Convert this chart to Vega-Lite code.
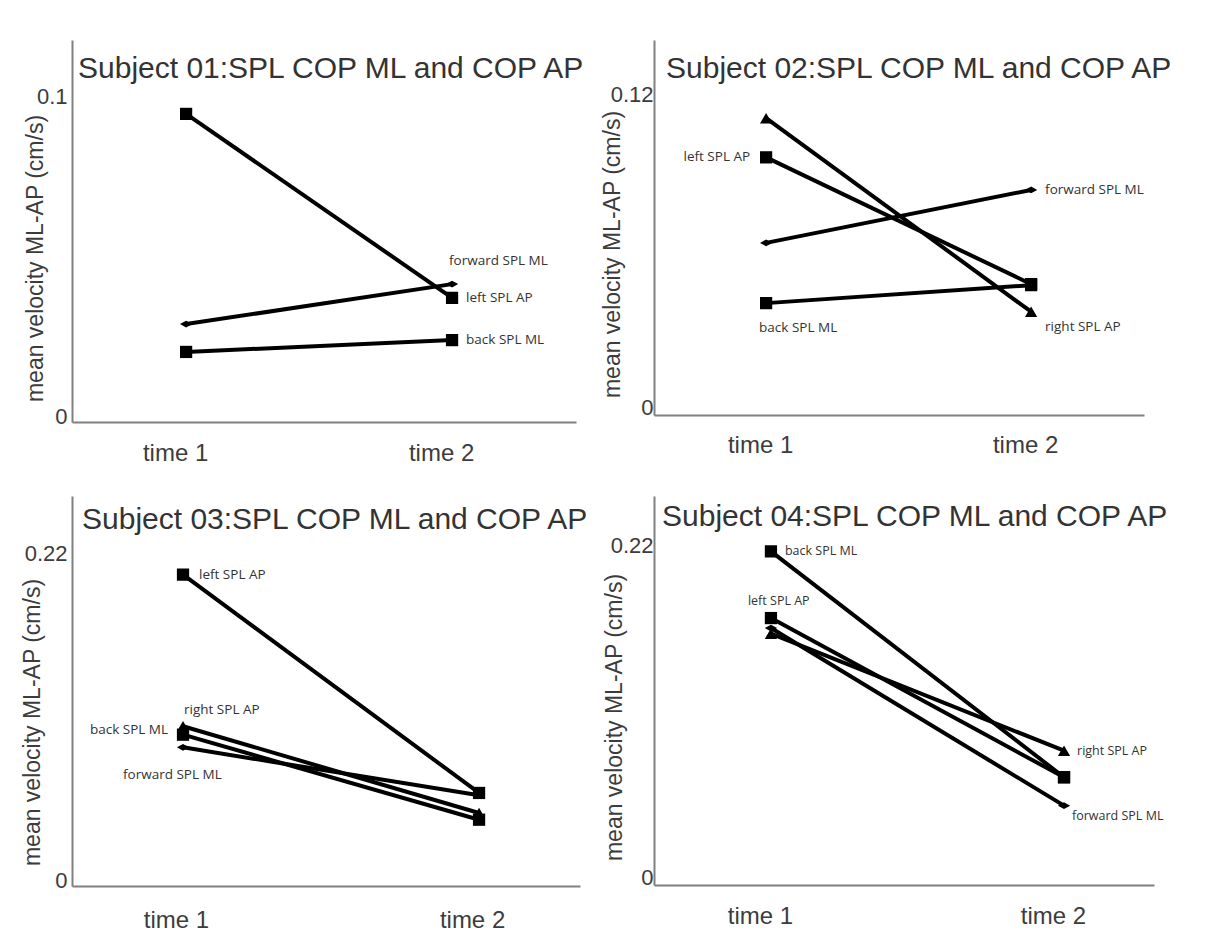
{
  "$schema": "https://vega.github.io/schema/vega-lite/v6.json",
  "padding": {"left": 21, "top": 40, "right": 5, "bottom": 5},
  "background": "white",
  "datasets": {
    "vel": [
      {"subject": "01", "series": "left SPL AP", "time": 1, "velocity": 0.0963},
      {"subject": "01", "series": "left SPL AP", "time": 2, "velocity": 0.0388},
      {"subject": "01", "series": "forward SPL ML", "time": 1, "velocity": 0.0306},
      {"subject": "01", "series": "forward SPL ML", "time": 2, "velocity": 0.0431},
      {"subject": "01", "series": "back SPL ML", "time": 1, "velocity": 0.0219},
      {"subject": "01", "series": "back SPL ML", "time": 2, "velocity": 0.0256},
      {"subject": "02", "series": "right SPL AP", "time": 1, "velocity": 0.1138},
      {"subject": "02", "series": "right SPL AP", "time": 2, "velocity": 0.0396},
      {"subject": "02", "series": "left SPL AP", "time": 1, "velocity": 0.0988},
      {"subject": "02", "series": "left SPL AP", "time": 2, "velocity": 0.0502},
      {"subject": "02", "series": "forward SPL ML", "time": 1, "velocity": 0.0660},
      {"subject": "02", "series": "forward SPL ML", "time": 2, "velocity": 0.0863},
      {"subject": "02", "series": "back SPL ML", "time": 1, "velocity": 0.0429},
      {"subject": "02", "series": "back SPL ML", "time": 2, "velocity": 0.0498},
      {"subject": "03", "series": "left SPL AP", "time": 1, "velocity": 0.2095},
      {"subject": "03", "series": "left SPL AP", "time": 2, "velocity": 0.0626},
      {"subject": "03", "series": "right SPL AP", "time": 1, "velocity": 0.1075},
      {"subject": "03", "series": "right SPL AP", "time": 2, "velocity": 0.0491},
      {"subject": "03", "series": "back SPL ML", "time": 1, "velocity": 0.1018},
      {"subject": "03", "series": "back SPL ML", "time": 2, "velocity": 0.0446},
      {"subject": "03", "series": "forward SPL ML", "time": 1, "velocity": 0.0933},
      {"subject": "03", "series": "forward SPL ML", "time": 2, "velocity": 0.0610},
      {"subject": "04", "series": "back SPL ML", "time": 1, "velocity": 0.2211},
      {"subject": "04", "series": "back SPL ML", "time": 2, "velocity": 0.0714},
      {"subject": "04", "series": "left SPL AP", "time": 1, "velocity": 0.1769},
      {"subject": "04", "series": "left SPL AP", "time": 2, "velocity": 0.0714},
      {"subject": "04", "series": "right SPL AP", "time": 1, "velocity": 0.1666},
      {"subject": "04", "series": "right SPL AP", "time": 2, "velocity": 0.0890},
      {"subject": "04", "series": "forward SPL ML", "time": 1, "velocity": 0.1703},
      {"subject": "04", "series": "forward SPL ML", "time": 2, "velocity": 0.0526}
    ]
  },
  "data": {"name": "vel"},
  "columns": 2,
  "spacing": {"row": 31, "column": 8},
  "concat": [
    {
      "width": 504, "height": 382,
      "title": {"text": "Subject 01:SPL COP ML and COP AP", "dx": 6, "offset": -44},
      "encoding": {
        "x": {"field": "time", "type": "quantitative", "scale": {"domain": [0.571, 2.466], "nice": false, "zero": false},
              "axis": {"title": null, "values": [1, 2], "labelExpr": "'time ' + datum.value", "labelFontSize": 24, "labelPadding": 19, "labelOffset": -11, "labelFlush": false}},
        "y": {"field": "velocity", "type": "quantitative", "scale": {"domain": [0, 0.1194], "nice": false},
              "axis": {"title": "mean velocity ML-AP (cm/s)", "values": [0, 0.1], "labelExpr": "'' + datum.value", "labelOffset": -6, "titleX": -25, "titleY": 218}}
      },
      "layer": [
        {"transform": [{"filter": "datum.subject == '01'"}], "mark": {"type": "line", "color": "black", "strokeWidth": 4}, "encoding": {"detail": {"field": "series"}}},
        {"transform": [{"filter": "datum.subject == '01'"}], "mark": {"type": "point", "filled": true, "color": "black", "opacity": 1},
         "encoding": {
           "shape": {"field": "series", "type": "nominal", "scale": {"domain": ["left SPL AP", "back SPL ML", "forward SPL ML", "right SPL AP"], "range": ["square", "square", "M-1,0L0,-0.55L1,0L0,0.55Z", "triangle-up"]}, "legend": null},
           "size": {"field": "series", "type": "nominal", "scale": {"domain": ["left SPL AP", "back SPL ML", "forward SPL ML", "right SPL AP"], "range": [150, 150, 110, 150]}, "legend": null}}},
        {"data": {"values": [{"end": "y"}]}, "mark": {"type": "point", "shape": "triangle-up", "filled": true, "color": "#7a7a7a", "size": 30, "opacity": 1}, "encoding": {"x": {"datum": 0.571}, "y": {"datum": 0.1194}}},
        {"data": {"values": [{"end": "x"}]}, "mark": {"type": "point", "shape": "triangle-right", "filled": true, "color": "#7a7a7a", "size": 30, "opacity": 1}, "encoding": {"x": {"datum": 2.466}, "y": {"datum": 0}}},
        {"transform": [{"filter": "datum.subject == '01' && datum.series == 'forward SPL ML' && datum.time == 2"}], "mark": {"type": "text", "align": "left", "dx": -3, "dy": -23}, "encoding": {"text": {"field": "series"}}},
        {"transform": [{"filter": "datum.subject == '01' && datum.series == 'left SPL AP' && datum.time == 2"}], "mark": {"type": "text", "align": "left", "dx": 14, "dy": 0}, "encoding": {"text": {"field": "series"}}},
        {"transform": [{"filter": "datum.subject == '01' && datum.series == 'back SPL ML' && datum.time == 2"}], "mark": {"type": "text", "align": "left", "dx": 14, "dy": 0}, "encoding": {"text": {"field": "series"}}}
      ]
    },
    {
      "width": 490, "height": 375,
      "title": {"text": "Subject 02:SPL COP ML and COP AP", "dx": 12, "offset": -44},
      "encoding": {
        "x": {"field": "time", "type": "quantitative", "scale": {"domain": [0.577, 2.426], "nice": false, "zero": false},
              "axis": {"title": null, "values": [1, 2], "labelExpr": "'time ' + datum.value", "labelFontSize": 24, "labelPadding": 18, "labelOffset": -6, "labelFlush": false}},
        "y": {"field": "velocity", "type": "quantitative", "scale": {"domain": [0, 0.1438], "nice": false},
              "axis": {"title": "mean velocity ML-AP (cm/s)", "values": [0, 0.12], "labelExpr": "'' + datum.value", "labelOffset": -8, "labelPadding": 1, "titleX": -30, "titleY": 214}}
      },
      "layer": [
        {"transform": [{"filter": "datum.subject == '02'"}], "mark": {"type": "line", "color": "black", "strokeWidth": 4}, "encoding": {"detail": {"field": "series"}}},
        {"transform": [{"filter": "datum.subject == '02'"}], "mark": {"type": "point", "filled": true, "color": "black", "opacity": 1},
         "encoding": {
           "shape": {"field": "series", "type": "nominal", "scale": {"domain": ["left SPL AP", "back SPL ML", "forward SPL ML", "right SPL AP"], "range": ["square", "square", "M-1,0L0,-0.55L1,0L0,0.55Z", "triangle-up"]}, "legend": null},
           "size": {"field": "series", "type": "nominal", "scale": {"domain": ["left SPL AP", "back SPL ML", "forward SPL ML", "right SPL AP"], "range": [150, 150, 110, 150]}, "legend": null}}},
        {"data": {"values": [{"end": "y"}]}, "mark": {"type": "point", "shape": "triangle-up", "filled": true, "color": "#7a7a7a", "size": 30, "opacity": 1}, "encoding": {"x": {"datum": 0.577}, "y": {"datum": 0.1438}}},
        {"data": {"values": [{"end": "x"}]}, "mark": {"type": "point", "shape": "triangle-right", "filled": true, "color": "#7a7a7a", "size": 30, "opacity": 1}, "encoding": {"x": {"datum": 2.426}, "y": {"datum": 0}}},
        {"transform": [{"filter": "datum.subject == '02' && datum.series == 'left SPL AP' && datum.time == 1"}], "mark": {"type": "text", "align": "right", "dx": -16, "dy": 0}, "encoding": {"text": {"field": "series"}}},
        {"transform": [{"filter": "datum.subject == '02' && datum.series == 'forward SPL ML' && datum.time == 2"}], "mark": {"type": "text", "align": "left", "dx": 14, "dy": 0}, "encoding": {"text": {"field": "series"}}},
        {"transform": [{"filter": "datum.subject == '02' && datum.series == 'back SPL ML' && datum.time == 1"}], "mark": {"type": "text", "align": "left", "dx": -7, "dy": 25}, "encoding": {"text": {"field": "series"}}},
        {"transform": [{"filter": "datum.subject == '02' && datum.series == 'right SPL AP' && datum.time == 2"}], "mark": {"type": "text", "align": "left", "dx": 14, "dy": 15}, "encoding": {"text": {"field": "series"}}}
      ]
    },
    {
      "width": 508, "height": 390,
      "title": {"text": "Subject 03:SPL COP ML and COP AP", "dx": 10, "offset": -39},
      "encoding": {
        "x": {"field": "time", "type": "quantitative", "scale": {"domain": [0.625, 2.341], "nice": false, "zero": false},
              "axis": {"title": null, "values": [1, 2], "labelExpr": "'time ' + datum.value", "labelFontSize": 24, "labelPadding": 22, "labelOffset": -7, "labelFlush": false}},
        "y": {"field": "velocity", "type": "quantitative", "scale": {"domain": [0, 0.2624], "nice": false},
              "axis": {"title": "mean velocity ML-AP (cm/s)", "values": [0, 0.22], "labelExpr": "'' + datum.value", "labelOffset": -6, "titleX": -28, "titleY": 226}}
      },
      "layer": [
        {"transform": [{"filter": "datum.subject == '03'"}], "mark": {"type": "line", "color": "black", "strokeWidth": 4}, "encoding": {"detail": {"field": "series"}}},
        {"transform": [{"filter": "datum.subject == '03'"}], "mark": {"type": "point", "filled": true, "color": "black", "opacity": 1},
         "encoding": {
           "shape": {"field": "series", "type": "nominal", "scale": {"domain": ["left SPL AP", "back SPL ML", "forward SPL ML", "right SPL AP"], "range": ["square", "square", "M-1,0L0,-0.55L1,0L0,0.55Z", "triangle-up"]}, "legend": null},
           "size": {"field": "series", "type": "nominal", "scale": {"domain": ["left SPL AP", "back SPL ML", "forward SPL ML", "right SPL AP"], "range": [150, 150, 110, 150]}, "legend": null}}},
        {"data": {"values": [{"end": "y"}]}, "mark": {"type": "point", "shape": "triangle-up", "filled": true, "color": "#7a7a7a", "size": 30, "opacity": 1}, "encoding": {"x": {"datum": 0.625}, "y": {"datum": 0.2624}}},
        {"data": {"values": [{"end": "x"}]}, "mark": {"type": "point", "shape": "triangle-right", "filled": true, "color": "#7a7a7a", "size": 30, "opacity": 1}, "encoding": {"x": {"datum": 2.341}, "y": {"datum": 0}}},
        {"transform": [{"filter": "datum.subject == '03' && datum.series == 'left SPL AP' && datum.time == 1"}], "mark": {"type": "text", "align": "left", "dx": 16, "dy": 0}, "encoding": {"text": {"field": "series"}}},
        {"transform": [{"filter": "datum.subject == '03' && datum.series == 'right SPL AP' && datum.time == 1"}], "mark": {"type": "text", "align": "left", "dx": 1, "dy": -16}, "encoding": {"text": {"field": "series"}}},
        {"transform": [{"filter": "datum.subject == '03' && datum.series == 'back SPL ML' && datum.time == 1"}], "mark": {"type": "text", "align": "right", "dx": -15, "dy": -5}, "encoding": {"text": {"field": "series"}}},
        {"transform": [{"filter": "datum.subject == '03' && datum.series == 'forward SPL ML' && datum.time == 1"}], "mark": {"type": "text", "align": "left", "dx": -60, "dy": 28}, "encoding": {"text": {"field": "series"}}}
      ]
    },
    {
      "width": 500, "height": 389,
      "title": {"text": "Subject 04:SPL COP ML and COP AP", "dx": 8, "offset": -36},
      "encoding": {
        "x": {"field": "time", "type": "quantitative", "scale": {"domain": [0.601, 2.307], "nice": false, "zero": false},
              "axis": {"title": null, "values": [1, 2], "labelExpr": "'time ' + datum.value", "labelFontSize": 24, "labelPadding": 19, "labelOffset": -11, "labelFlush": false}},
        "y": {"field": "velocity", "type": "quantitative", "scale": {"domain": [0, 0.2578], "nice": false},
              "axis": {"title": "mean velocity ML-AP (cm/s)", "values": [0, 0.22], "labelExpr": "'' + datum.value", "labelOffset": -8, "labelPadding": 1, "titleX": -28, "titleY": 221}}
      },
      "layer": [
        {"transform": [{"filter": "datum.subject == '04'"}], "mark": {"type": "line", "color": "black", "strokeWidth": 4}, "encoding": {"detail": {"field": "series"}}},
        {"transform": [{"filter": "datum.subject == '04'"}], "mark": {"type": "point", "filled": true, "color": "black", "opacity": 1},
         "encoding": {
           "shape": {"field": "series", "type": "nominal", "scale": {"domain": ["left SPL AP", "back SPL ML", "forward SPL ML", "right SPL AP"], "range": ["square", "square", "M-1,0L0,-0.55L1,0L0,0.55Z", "triangle-up"]}, "legend": null},
           "size": {"field": "series", "type": "nominal", "scale": {"domain": ["left SPL AP", "back SPL ML", "forward SPL ML", "right SPL AP"], "range": [150, 150, 110, 150]}, "legend": null}}},
        {"data": {"values": [{"end": "y"}]}, "mark": {"type": "point", "shape": "triangle-up", "filled": true, "color": "#7a7a7a", "size": 30, "opacity": 1}, "encoding": {"x": {"datum": 0.601}, "y": {"datum": 0.2578}}},
        {"data": {"values": [{"end": "x"}]}, "mark": {"type": "point", "shape": "triangle-right", "filled": true, "color": "#7a7a7a", "size": 30, "opacity": 1}, "encoding": {"x": {"datum": 2.307}, "y": {"datum": 0}}},
        {"transform": [{"filter": "datum.subject == '04' && datum.series == 'back SPL ML' && datum.time == 1"}], "mark": {"type": "text", "align": "left", "dx": 14, "dy": 0, "fontSize": 12.5}, "encoding": {"text": {"field": "series"}}},
        {"transform": [{"filter": "datum.subject == '04' && datum.series == 'left SPL AP' && datum.time == 1"}], "mark": {"type": "text", "align": "left", "dx": -23, "dy": -17, "fontSize": 12.5}, "encoding": {"text": {"field": "series"}}},
        {"transform": [{"filter": "datum.subject == '04' && datum.series == 'right SPL AP' && datum.time == 2"}], "mark": {"type": "text", "align": "left", "dx": 13, "dy": 0, "fontSize": 12.5}, "encoding": {"text": {"field": "series"}}},
        {"transform": [{"filter": "datum.subject == '04' && datum.series == 'forward SPL ML' && datum.time == 2"}], "mark": {"type": "text", "align": "left", "dx": 8, "dy": 10, "fontSize": 12.5}, "encoding": {"text": {"field": "series"}}}
      ]
    }
  ],
  "config": {
    "font": "Liberation Sans",
    "view": {"stroke": null},
    "axis": {
      "domainColor": "#808080", "domainWidth": 2, "ticks": false, "grid": false,
      "labelColor": "#3c3c3c", "titleColor": "#3c3c3c", "labelFont": "Liberation Sans", "titleFont": "Liberation Sans",
      "labelFontSize": 22, "labelPadding": 5, "titleFontSize": 23, "titleFontWeight": "normal"
    },
    "title": {"anchor": "start", "frame": "group", "fontSize": 30, "fontWeight": "normal", "color": "#333333", "font": "Liberation Sans", "baseline": "alphabetic"},
    "text": {"font": "Open Sans", "fontSize": 13.5, "color": "#333333", "baseline": "middle"}
  }
}
